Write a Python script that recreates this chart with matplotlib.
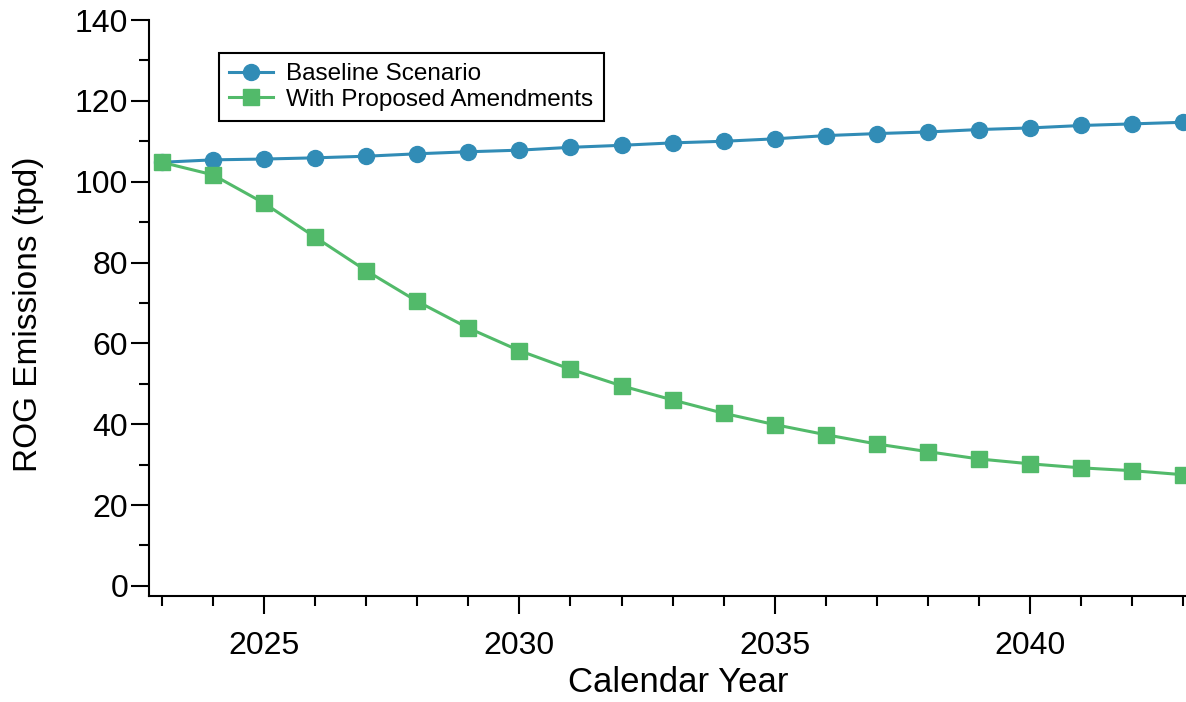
import numpy as np
import matplotlib.pyplot as plt
from matplotlib.ticker import MultipleLocator

plt.rcParams['font.family'] = ['Liberation Sans', 'DejaVu Sans']

# ROG emissions by calendar year (tons per day)
years = list(range(2023, 2044))
baseline = [104.8, 105.4, 105.6, 105.9, 106.3, 106.9, 107.4, 107.8, 108.5, 109.0,
            109.6, 110.0, 110.6, 111.4, 111.9, 112.3, 112.9, 113.3, 113.9, 114.3, 114.7]
amended = [104.8, 101.7, 94.7, 86.3, 78.0, 70.4, 63.8, 58.2, 53.6, 49.5,
           46.0, 42.7, 39.9, 37.4, 35.1, 33.2, 31.4, 30.2, 29.2, 28.5, 27.5]

blue = '#318cb6'
green = '#52ba6a'

fig = plt.figure(figsize=(11.86, 7.02), dpi=100)
ax = fig.add_axes([149 / 1186, 106 / 702, 1037 / 1186, 576 / 702])

ax.plot(years, baseline, '-o', color=blue, lw=2.2, markersize=11.5,
        label='Baseline Scenario')
ax.plot(years, amended, '-s', color=green, lw=2.2, markersize=11.5,
        label='With Proposed Amendments')

ax.set_xlim(2022.75, 2043.05)
ax.set_ylim(-2.5, 140)

ax.xaxis.set_major_locator(MultipleLocator(5))
ax.xaxis.set_minor_locator(MultipleLocator(1))
ax.yaxis.set_major_locator(MultipleLocator(20))
ax.yaxis.set_minor_locator(MultipleLocator(10))

for side in ['top', 'right']:
    ax.spines[side].set_visible(False)
for side in ['left', 'bottom']:
    ax.spines[side].set_linewidth(1.5)

ax.tick_params(which='major', length=13, width=1.5, labelsize=23)
ax.tick_params(which='minor', length=7.5, width=1.5)
ax.tick_params(axis='x', which='major', pad=12)
ax.tick_params(axis='y', which='major', pad=2)

ax.set_xlabel('Calendar Year', fontsize=25)
ax.set_ylabel('ROG Emissions (tpd)', fontsize=24)
ax.xaxis.set_label_coords(0.51, -0.1215)
ax.yaxis.set_label_coords(-0.101, 0.49)

leg = ax.legend(loc='upper left', bbox_to_anchor=(0.0675, 0.943), borderaxespad=0,
                fontsize=17.5, fancybox=False, framealpha=1, edgecolor='black',
                handlelength=1.8, labelspacing=0.15, borderpad=0.42,
                handletextpad=0.55)
leg.get_frame().set_linewidth(1.5)

fig.savefig('out.png', dpi=100)
